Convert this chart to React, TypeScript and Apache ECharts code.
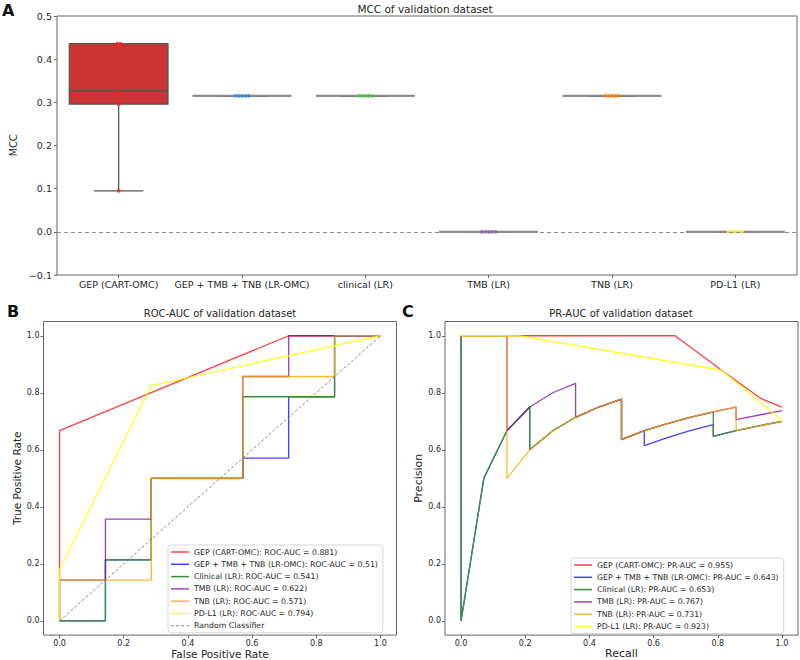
import React, { useEffect, useRef } from "react";
import * as echarts from "echarts";

// ---------- Panel A data (MCC) ----------
const mccCategories = [
  "GEP (CART-OMC)",
  "GEP + TMB + TNB (LR-OMC)",
  "clinical (LR)",
  "TMB (LR)",
  "TNB (LR)",
  "PD-L1 (LR)",
];
// [min, q1, median, q3, max]
const mccBoxStats = [
  [0.095, 0.296, 0.327, 0.436, 0.436],
  [0.315, 0.315, 0.315, 0.315, 0.315],
  [0.315, 0.315, 0.315, 0.315, 0.315],
  [0.0, 0.0, 0.0, 0.0, 0.0],
  [0.315, 0.315, 0.315, 0.315, 0.315],
  [0.0, 0.0, 0.0, 0.0, 0.0],
];
const mccPoints = [
  [0.436, 0.436, 0.327, 0.296, 0.095],
  [0.315, 0.315, 0.315, 0.315, 0.315],
  [0.315, 0.315, 0.315, 0.315, 0.315],
  [0.0, 0.0, 0.0, 0.0, 0.0],
  [0.315, 0.315, 0.315, 0.315, 0.315],
  [0.0, 0.0, 0.0, 0.0, 0.0],
];
const boxFaceColors = ["#cb3335", "#477ca8", "#59a257", "#8d5a98", "#e8822c", "#e6e64d"];
const swarmColors = ["#ff1a1a", "#3a86d0", "#4fc04a", "#a450b8", "#ff7f00", "#ffff33"];
const mccTicks = { min: -0.1, max: 0.5, interval: 0.1 };

// ---------- Panel B data (ROC) ----------
const rocNames = [
  "GEP (CART-OMC): ROC-AUC = 0.881)",
  "GEP + TMB + TNB (LR-OMC): ROC-AUC = 0.51)",
  "Clinical (LR): ROC-AUC = 0.541)",
  "TMB (LR): ROC-AUC = 0.622)",
  "TNB (LR): ROC-AUC = 0.571)",
  "PD-L1 (LR): ROC-AUC = 0.794)",
];
const rocGEP = [[0, 0], [0, 0.667], [0.714, 1], [1, 1]];
const rocCombo = [[0, 0], [0.143, 0], [0.143, 0.214], [0.286, 0.214], [0.286, 0.5], [0.571, 0.5], [0.571, 0.571], [0.714, 0.571], [0.714, 0.786], [0.857, 0.786], [0.857, 1], [1, 1]];
const rocClinical = [[0, 0], [0.143, 0], [0.143, 0.214], [0.286, 0.214], [0.286, 0.5], [0.571, 0.5], [0.571, 0.786], [0.857, 0.786], [0.857, 1], [1, 1]];
const rocTMB = [[0, 0], [0, 0.143], [0.143, 0.143], [0.143, 0.357], [0.286, 0.357], [0.286, 0.5], [0.571, 0.5], [0.571, 0.857], [0.714, 0.857], [0.714, 1], [1, 1]];
const rocTNB = [[0, 0], [0, 0.143], [0.286, 0.143], [0.286, 0.5], [0.571, 0.5], [0.571, 0.857], [0.857, 0.857], [0.857, 1], [1, 1]];
const rocPDL1 = [[0, 0], [0, 0.18], [0.286, 0.825], [1, 1]];
const rocRandom = [[0, 0], [1, 1]];
const randomName = "Random Classifier";

// ---------- Panel C data (PR) ----------
const prNames = [
  "GEP (CART-OMC): PR-AUC = 0.955)",
  "GEP + TMB + TNB (LR-OMC): PR-AUC = 0.643)",
  "Clinical (LR): PR-AUC = 0.653)",
  "TMB (LR): PR-AUC = 0.767)",
  "TNB (LR): PR-AUC = 0.731)",
  "PD-L1 (LR): PR-AUC = 0.923)",
];
const prGEP = [[0, 1], [0.667, 1], [0.812, 0.879], [0.934, 0.78], [1, 0.75]];
const prCombo = [[0, 1], [0, 0], [0.071, 0.5], [0.143, 0.667], [0.214, 0.75], [0.214, 0.6], [0.286, 0.667], [0.357, 0.714], [0.429, 0.75], [0.5, 0.778], [0.5, 0.7], [0.5, 0.636], [0.571, 0.667], [0.571, 0.615], [0.643, 0.643], [0.714, 0.667], [0.786, 0.688], [0.786, 0.647], [0.857, 0.667], [0.929, 0.684], [1, 0.7]];
const prClinical = [[0, 1], [0, 0], [0.071, 0.5], [0.143, 0.667], [0.214, 0.75], [0.214, 0.6], [0.286, 0.667], [0.357, 0.714], [0.429, 0.75], [0.5, 0.778], [0.5, 0.7], [0.5, 0.636], [0.571, 0.667], [0.643, 0.692], [0.714, 0.714], [0.786, 0.733], [0.786, 0.688], [0.786, 0.647], [0.857, 0.667], [0.929, 0.684], [1, 0.7]];
const prTMB = [[0, 1], [0.071, 1], [0.143, 1], [0.143, 0.667], [0.214, 0.75], [0.286, 0.8], [0.357, 0.833], [0.357, 0.714], [0.429, 0.75], [0.5, 0.778], [0.5, 0.7], [0.5, 0.636], [0.571, 0.667], [0.643, 0.692], [0.714, 0.714], [0.786, 0.733], [0.857, 0.75], [0.857, 0.706], [0.929, 0.722], [1, 0.737]];
const prTNB = [[0, 1], [0.071, 1], [0.143, 1], [0.143, 0.667], [0.143, 0.5], [0.214, 0.6], [0.286, 0.667], [0.357, 0.714], [0.429, 0.75], [0.5, 0.778], [0.5, 0.7], [0.5, 0.636], [0.571, 0.667], [0.643, 0.692], [0.714, 0.714], [0.786, 0.733], [0.857, 0.75], [0.857, 0.706], [0.857, 0.667], [0.929, 0.684], [1, 0.7]];
const prPDL1 = [[0, 1], [0.18, 1], [0.812, 0.879], [1, 0.704]];

const curveTicks = [0, 0.2, 0.4, 0.6, 0.8, 1.0];
const curveColors = [
  "rgba(255,0,0,0.75)",
  "rgba(0,0,255,0.75)",
  "rgb(55,145,55)",
  "rgba(128,0,170,0.75)",
  "rgba(255,165,0,0.8)",
  "rgba(255,255,0,0.8)",
];
const randomColor = "rgba(110,110,110,0.8)";

const FONT = "DejaVu Sans";
const TXT = "#262626";
const FRAME = "#666666";
const LINE_GREY = "#555555";

export default function App() {
  const ref = useRef<HTMLDivElement>(null);

  useEffect(() => {
    if (!ref.current) return;
    const chart = echarts.init(ref.current, undefined, { renderer: "svg" });

    const fmt1 = (v: number) => v.toFixed(1).replace("-", "\u2212");

    const swarmData: any[] = [];
    mccPoints.forEach((vals, ci) => {
      const groups: Record<string, number> = {};
      vals.forEach((v) => {
        groups[v.toFixed(3)] = (groups[v.toFixed(3)] || 0) + 1;
      });
      const seen: Record<string, number> = {};
      vals.forEach((v) => {
        const k = v.toFixed(3);
        const n = groups[k];
        const j = seen[k] || 0;
        seen[k] = j + 1;
        const off = (j - (n - 1) / 2) * 3.4;
        swarmData.push({
          value: [ci, v],
          symbolOffset: [off, 0],
          itemStyle: { color: swarmColors[ci] },
        });
      });
    });

    const curveAxisX = (gi: number, name: string, nameSize: number) => ({
      type: "value",
      gridIndex: gi,
      min: -0.05,
      max: 1.05,
      name,
      nameLocation: "middle",
      nameGap: 11,
      nameTextStyle: { fontFamily: FONT, fontSize: nameSize, color: TXT },
      axisLine: { show: false, onZero: false },
      axisTick: { show: true, customValues: curveTicks, length: 3, lineStyle: { color: FRAME } },
      axisLabel: { customValues: curveTicks, formatter: fmt1, fontFamily: FONT, fontSize: 8, color: TXT, margin: 4 },
      splitLine: { show: false },
    });
    const curveAxisY = (gi: number, name: string, nameSize: number, gap: number) => ({
      type: "value",
      gridIndex: gi,
      min: -0.05,
      max: 1.05,
      name,
      nameLocation: "middle",
      nameGap: gap,
      nameTextStyle: { fontFamily: FONT, fontSize: nameSize, color: TXT },
      axisLine: { show: false, onZero: false },
      axisTick: { show: true, customValues: curveTicks, length: 3, lineStyle: { color: FRAME } },
      axisLabel: { customValues: curveTicks, formatter: fmt1, fontFamily: FONT, fontSize: 8, color: TXT, margin: 4 },
      splitLine: { show: false },
    });

    const curveSeries = (name: string, data: number[][], color: string, xi: number, dashed = false) => ({
      type: "line",
      name,
      xAxisIndex: xi,
      yAxisIndex: xi,
      data,
      symbol: "none",
      showSymbol: false,
      silent: true,
      lineStyle: { color, width: dashed ? 1 : 1.3, type: dashed ? [3, 2] : "solid" },
      itemStyle: { color },
      z: 3,
    });

    const rocSets = [rocGEP, rocCombo, rocClinical, rocTMB, rocTNB, rocPDL1];
    const prSets = [prGEP, prCombo, prClinical, prTMB, prTNB, prPDL1];

    const solidIcon = "rect";
    const dashIcon = "path://M0,0h3v1h-3z M5,0h3v1h-3z M10,0h3v1h-3z M15,0h3v1h-3z";

    const legendCommon = {
      orient: "vertical",
      itemWidth: 18,
      itemHeight: 1.5,
      itemGap: 2.3,
      selectedMode: false,
      textStyle: { fontFamily: FONT, fontSize: 7.8, color: TXT, lineHeight: 10 },
      backgroundColor: "rgba(255,255,255,0.85)",
      borderColor: "#d6d6d6",
      borderWidth: 1,
      borderRadius: 3,
      padding: [2, 5, 2, 3],
    };

    const option: any = {
      animation: false,
      backgroundColor: "#ffffff",
      textStyle: { fontFamily: FONT },
      title: [
        { text: "MCC of validation dataset", left: 425, top: 3, padding: 0, textAlign: "center", textStyle: { fontFamily: FONT, fontSize: 10.5, fontWeight: "normal", color: TXT } },
        { text: "ROC-AUC of validation dataset", left: 220, top: 308.5, padding: 0, textAlign: "center", textStyle: { fontFamily: FONT, fontSize: 10, fontWeight: "normal", color: TXT } },
        { text: "PR-AUC of validation dataset", left: 621, top: 308.5, padding: 0, textAlign: "center", textStyle: { fontFamily: FONT, fontSize: 10, fontWeight: "normal", color: TXT } },
      ],
      graphic: [
        { type: "text", left: 2, top: 2, style: { text: "A", font: `bold 16px "${FONT}"`, fill: "#111" } },
        { type: "text", left: 7, top: 303, style: { text: "B", font: `bold 16px "${FONT}"`, fill: "#111" } },
        { type: "text", left: 402, top: 303, style: { text: "C", font: `bold 16px "${FONT}"`, fill: "#111" } },
      ],
      legend: [
        {
          ...legendCommon,
          data: [
            ...rocNames.map((n) => ({ name: n, icon: solidIcon })),
            { name: randomName, icon: dashIcon },
          ],
          left: 168,
          top: 545,
        },
        {
          ...legendCommon,
          data: prNames.map((n) => ({ name: n, icon: solidIcon })),
          left: 571,
          top: 558,
        },
      ],
      grid: [
        { left: 53, top: 16, width: 744, height: 259, show: true, borderColor: FRAME, borderWidth: 1, backgroundColor: "transparent" },
        { left: 43.5, top: 321.5, width: 353, height: 315.5, show: true, borderColor: FRAME, borderWidth: 1, backgroundColor: "transparent" },
        { left: 445, top: 321.5, width: 353, height: 315.5, show: true, borderColor: FRAME, borderWidth: 1, backgroundColor: "transparent" },
      ],
      xAxis: [
        {
          type: "category",
          gridIndex: 0,
          data: mccCategories,
          boundaryGap: true,
          axisLine: { show: false, onZero: false },
          axisTick: { show: true, alignWithLabel: true, length: 3, lineStyle: { color: FRAME } },
          axisLabel: { fontFamily: FONT, fontSize: 9.5, color: TXT, margin: 4, interval: 0 },
          splitLine: { show: false },
        },
        curveAxisX(1, "False Positive Rate", 10.5),
        curveAxisX(2, "Recall", 11),
      ],
      yAxis: [
        {
          type: "value",
          gridIndex: 0,
          min: mccTicks.min,
          max: mccTicks.max,
          interval: mccTicks.interval,
          name: "MCC",
          nameLocation: "middle",
          nameGap: 28,
          nameTextStyle: { fontFamily: FONT, fontSize: 9.6, color: TXT },
          axisLine: { show: false, onZero: false },
          axisTick: { show: true, length: 3, lineStyle: { color: FRAME } },
          axisLabel: { formatter: fmt1, fontFamily: FONT, fontSize: 9.5, color: TXT, margin: 5 },
          splitLine: { show: false },
        },
        curveAxisY(1, "True Positive Rate", 10.5, 20),
        curveAxisY(2, "Precision", 11, 19),
      ],
      series: [
        {
          type: "line",
          name: "zero",
          xAxisIndex: 0,
          yAxisIndex: 0,
          data: [],
          silent: true,
          z: 1,
          markLine: {
            silent: true,
            symbol: "none",
            label: { show: false },
            lineStyle: { color: "#8c8c8c", type: [4, 3], width: 1 },
            data: [{ yAxis: 0 }],
          },
        },
        {
          type: "custom",
          name: "mccBox",
          xAxisIndex: 0,
          yAxisIndex: 0,
          z: 2,
          silent: true,
          encode: { x: 0, y: [1, 2, 3, 4, 5] },
          data: mccBoxStats.map((s, i) => [i, ...s]),
          renderItem: (params: any, api: any) => {
            const idx = api.value(0);
            const band = api.size([1, 0])[0];
            const half = band * 0.4;
            const cap = band * 0.2;
            const cx = api.coord([idx, api.value(1)])[0];
            const yMin = api.coord([idx, api.value(1)])[1];
            const yQ1 = api.coord([idx, api.value(2)])[1];
            const yMed = api.coord([idx, api.value(3)])[1];
            const yQ3 = api.coord([idx, api.value(4)])[1];
            const yMax = api.coord([idx, api.value(5)])[1];
            const flat = Math.abs(yQ1 - yQ3) < 0.5;
            const ls = { stroke: LINE_GREY, lineWidth: 1.3 };
            return {
              type: "group",
              children: [
                { type: "line", shape: { x1: cx, y1: yQ3, x2: cx, y2: yMax }, style: ls },
                { type: "line", shape: { x1: cx, y1: yQ1, x2: cx, y2: yMin }, style: ls },
                { type: "line", shape: { x1: cx - cap, y1: yMax, x2: cx + cap, y2: yMax }, style: ls },
                { type: "line", shape: { x1: cx - cap, y1: yMin, x2: cx + cap, y2: yMin }, style: ls },
                { type: "rect", shape: { x: cx - half, y: yQ3, width: 2 * half, height: Math.max(yQ1 - yQ3, 0) }, style: { fill: boxFaceColors[params.dataIndex], stroke: LINE_GREY, lineWidth: 1.3 } },
                { type: "line", shape: { x1: cx - half, y1: yMed, x2: cx + half, y2: yMed }, style: { stroke: flat ? "#8a8a8a" : LINE_GREY, lineWidth: flat ? 2 : 1.5 } },
              ],
            };
          },
        },
        {
          type: "scatter",
          name: "mccSwarm",
          xAxisIndex: 0,
          yAxisIndex: 0,
          symbol: "circle",
          symbolSize: 3.8,
          silent: true,
          z: 4,
          data: swarmData,
        },
        ...rocSets.map((d, i) => curveSeries(rocNames[i], d, curveColors[i], 1)),
        curveSeries(randomName, rocRandom, randomColor, 1, true),
        ...prSets.map((d, i) => curveSeries(prNames[i], d, curveColors[i], 2)),
      ],
    };

    chart.setOption(option);
    return () => chart.dispose();
  }, []);

  return (
    <div
      ref={ref}
      style={{ position: "fixed", left: 0, top: 0, width: 800, height: 660, background: "#fff" }}
    />
  );
}
